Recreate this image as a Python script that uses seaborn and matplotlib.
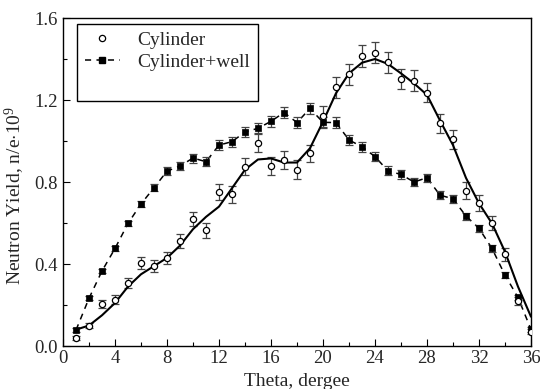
import numpy as np
import pandas as pd
import matplotlib
matplotlib.use("Agg")
import matplotlib.pyplot as plt
from matplotlib.lines import Line2D
from matplotlib.ticker import MultipleLocator
import seaborn as sns

theta = list(range(1, 37))

# Cylinder (open circles)
cyl = [0.037, 0.10, 0.205, 0.226, 0.306, 0.406, 0.39, 0.43, 0.512, 0.618, 0.564, 0.751,
       0.74, 0.875, 0.992, 0.878, 0.907, 0.86, 0.94, 1.12, 1.262, 1.325, 1.415, 1.431,
       1.384, 1.302, 1.294, 1.236, 1.086, 1.008, 0.758, 0.699, 0.601, 0.447, 0.22, 0.07]
cyl_err = [0.01, 0.012, 0.02, 0.022, 0.025, 0.03, 0.03, 0.03, 0.033, 0.035, 0.035, 0.037,
           0.04, 0.042, 0.045, 0.045, 0.045, 0.045, 0.042, 0.05, 0.05, 0.05, 0.052, 0.052,
           0.05, 0.05, 0.05, 0.048, 0.045, 0.045, 0.04, 0.038, 0.035, 0.03, 0.02, 0.012]

# smooth fit through Cylinder points
cyl_fit = [0.08, 0.10, 0.15, 0.21, 0.29, 0.35, 0.39, 0.43, 0.49, 0.57, 0.63, 0.68,
           0.77, 0.86, 0.91, 0.915, 0.895, 0.895, 0.965, 1.094, 1.233, 1.33, 1.382, 1.40,
           1.376, 1.33, 1.281, 1.225, 1.10, 0.98, 0.82, 0.696, 0.598, 0.46, 0.29, 0.143]

# Cylinder+well (filled squares)
well = [0.078, 0.233, 0.366, 0.476, 0.598, 0.693, 0.772, 0.853, 0.878, 0.917, 0.899, 0.98,
        0.997, 1.044, 1.062, 1.096, 1.139, 1.09, 1.159, 1.091, 1.09, 1.005, 0.972, 0.924,
        0.854, 0.837, 0.80, 0.821, 0.736, 0.718, 0.634, 0.574, 0.476, 0.346, 0.237, 0.081]
well_err = [0.01, 0.01, 0.012, 0.012, 0.014, 0.016, 0.018, 0.02, 0.02, 0.022, 0.022, 0.024,
            0.025, 0.026, 0.027, 0.028, 0.028, 0.028, 0.028, 0.028, 0.027, 0.025, 0.024, 0.023,
            0.022, 0.021, 0.02, 0.02, 0.019, 0.018, 0.017, 0.016, 0.015, 0.014, 0.012, 0.012]

df = pd.DataFrame({"theta": theta, "cyl": cyl, "cyl_err": cyl_err, "cyl_fit": cyl_fit,
                   "well": well, "well_err": well_err})

sns.set_theme(style="ticks")
plt.rcParams['font.family'] = ['Liberation Serif', 'DejaVu Serif']
plt.rcParams['mathtext.fontset'] = 'custom'
plt.rcParams['mathtext.rm'] = 'Liberation Serif'
plt.rcParams['mathtext.it'] = 'Liberation Serif:italic'

fig = plt.figure(figsize=(5.4, 3.89), dpi=100)
ax = fig.add_axes([0.1167, 0.1105, 0.8666, 0.8432])

# dashed line through squares
sns.lineplot(data=df, x="theta", y="well", ax=ax, color="black", lw=1.1,
             linestyle=(0, (4, 3.5)), zorder=2)
ax.errorbar(df["theta"], df["well"], yerr=df["well_err"], fmt="none", ecolor="#444444",
            elinewidth=0.9, capsize=2.8, capthick=0.9, zorder=3)
sns.scatterplot(data=df, x="theta", y="well", ax=ax, marker="s", s=22, color="black",
                edgecolor="black", linewidth=0.5, zorder=4)

# solid fit line and open circles
ax.errorbar(df["theta"], df["cyl"], yerr=df["cyl_err"], fmt="none", ecolor="#444444",
            elinewidth=0.9, capsize=2.8, capthick=0.9, zorder=3)
sns.lineplot(data=df, x="theta", y="cyl_fit", ax=ax, color="black", lw=1.5, zorder=5)
sns.scatterplot(data=df, x="theta", y="cyl", ax=ax, marker="o", s=20, color="white",
                edgecolor="black", linewidth=0.9, zorder=6)

ax.set_xlim(0, 36)
ax.set_ylim(0, 1.6)
ax.xaxis.set_major_locator(MultipleLocator(4))
ax.xaxis.set_minor_locator(MultipleLocator(2))
ax.yaxis.set_major_locator(MultipleLocator(0.4))
ax.yaxis.set_minor_locator(MultipleLocator(0.2))
ax.yaxis.set_major_formatter(matplotlib.ticker.FormatStrFormatter('%.1f'))
ax.tick_params(which="both", direction="in", top=False, right=False, labelsize=13.5,
               color="black", width=0.8)
ax.tick_params(which="major", length=5)
ax.tick_params(which="minor", length=3)
ax.tick_params(axis="x", pad=3)
for sp in ax.spines.values():
    sp.set_visible(True)
    sp.set_color("black")
    sp.set_linewidth(1.0)

ax.set_xlabel("Theta, dergee", fontsize=14, labelpad=4)
ax.set_ylabel("Neutron Yield, n/e$\\cdot$10$^9$", fontsize=14)
ax.yaxis.set_label_coords(-0.076, 0.46)

handles = [
    Line2D([], [], marker="o", ls="none", color="black", mfc="white", ms=4.5, mew=0.9),
    Line2D([], [], marker="s", ls=(0, (4, 3.5)), color="black", ms=4.5, lw=1.1),
    Line2D([], [], ls="none"),
]
leg = ax.legend(handles, ["Cylinder", "Cylinder+well", " "], loc="upper left",
                bbox_to_anchor=(0.030, 0.982), borderaxespad=0, fontsize=14, frameon=True,
                fancybox=False, edgecolor="black", framealpha=1, handlelength=1.8,
                borderpad=0.4, labelspacing=0.22, handletextpad=0.9)
leg.get_frame().set_linewidth(1.0)

fig.savefig("out.png", dpi=100)
